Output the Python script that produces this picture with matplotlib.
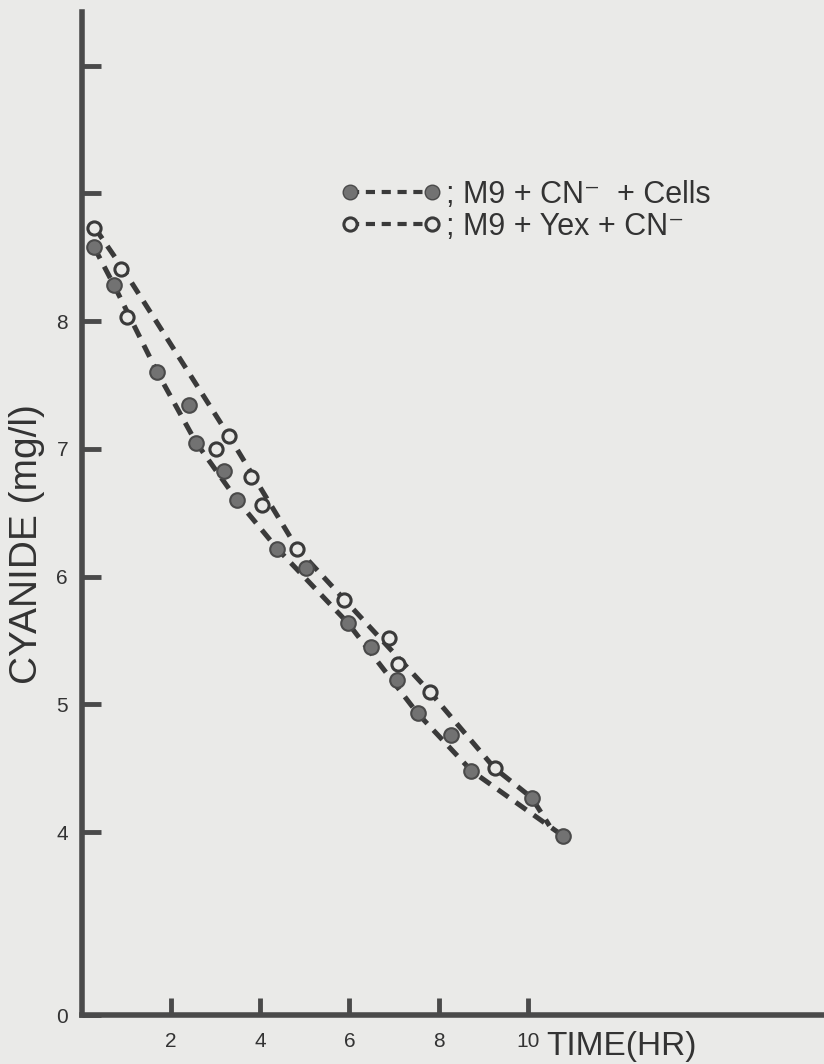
import numpy as np
import matplotlib.pyplot as plt
from matplotlib.lines import Line2D

plt.rcParams['font.family'] = ['Liberation Sans', 'DejaVu Sans']

# Cyanide concentration (mg/l)
# filled circles: M9 + CN- + Cells
cells_time = [0.27, 0.72, 1.69, 2.40, 2.56, 3.19, 3.48, 4.38, 5.03, 5.96,
              6.49, 7.06, 7.53, 8.29, 8.74, 10.09, 10.79]
cells_cn = [8.58, 8.28, 7.60, 7.34, 7.05, 6.83, 6.60, 6.22, 6.07, 5.64,
            5.45, 5.19, 4.93, 4.76, 4.48, 4.27, 3.92]
# open circles: M9 + Yex + CN-
yex_time = [0.27, 0.88, 1.01, 3.01, 3.30, 3.80, 4.04, 4.83, 5.89, 6.90,
            7.08, 7.80, 9.26]
yex_cn = [8.73, 8.41, 8.03, 7.00, 7.10, 6.78, 6.56, 6.22, 5.82, 5.52,
          5.32, 5.10, 4.50]

# hand drawn dashed trend lines
upper_time = [0.29, 0.88, 3.30, 4.83, 5.89, 7.80, 9.26, 10.09, 10.49]
upper_cn = [8.73, 8.43, 7.10, 6.22, 5.82, 5.10, 4.50, 4.27, 4.05]
lower_time = [0.27, 0.72, 1.69, 2.56, 3.48, 4.38, 5.96, 7.53, 8.74, 10.79]
lower_cn = [8.58, 8.28, 7.60, 7.05, 6.60, 6.22, 5.64, 4.93, 4.48, 3.92]

x_ticks = [2, 4, 6, 8, 10]
y_ticks = [0, 4, 5, 6, 7, 8, 9, 10]
y_labels = ['0', '4', '5', '6', '7', '8', '', '']

# y axis is compressed below 4 (broken scale in the original)
K = 0.358


def fwd(v):
    v = np.asarray(v, dtype=float)
    return np.where(v >= 4, v, 4 + (v - 4) * K)


def inv(u):
    u = np.asarray(u, dtype=float)
    return np.where(u >= 4, u, 4 + (u - 4) / K)


paper = '#eaeae8'
ink = '#3a3a3a'
text_col = '#333333'

fig = plt.figure(figsize=(8.24, 10.64), dpi=100, facecolor=paper)
ax = fig.add_axes([0.0995, 0.046, 0.9005, 0.9427], facecolor=paper)
ax.set_yscale('function', functions=(fwd, inv))

dash = dict(color=ink, lw=3.6, linestyle=(0, (2.6, 1.8)), solid_capstyle='butt')
ax.plot(upper_time, upper_cn, zorder=2, **dash)
ax.plot(lower_time, lower_cn, zorder=2, **dash)

ax.plot(cells_time, cells_cn, 'o', ms=10.5, mfc='#727272', mec='#4a4a4a', mew=1.5, zorder=3)
ax.plot(yex_time, yex_cn, 'o', ms=9.5, mfc=paper, mec=ink, mew=2.2, zorder=3)

ax.set_xlim(0, 16.65)
ax.set_ylim(0, 10.42)

for s in ['top', 'right']:
    ax.spines[s].set_visible(False)
for s in ['left', 'bottom']:
    ax.spines[s].set_linewidth(4)
    ax.spines[s].set_color('#4a4a4a')

ax.set_xticks(x_ticks)
ax.set_xticklabels([str(t) for t in x_ticks])
ax.set_yticks(y_ticks)
ax.set_yticklabels(y_labels)
ax.minorticks_off()
ax.tick_params(axis='x', direction='in', length=12, width=3.5, color='#4a4a4a',
               pad=12, labelsize=15, labelcolor=text_col)
ax.tick_params(axis='y', direction='in', length=14, width=3.5, color='#4a4a4a',
               pad=10, labelsize=15, labelcolor=text_col)
for lab in ax.get_xticklabels() + ax.get_yticklabels():
    lab.set_family(['Liberation Sans Narrow', 'Liberation Sans'])

ax.set_ylabel('CYANIDE (mg/l)', fontsize=28, color=text_col)
ax.yaxis.set_label_coords(-0.05, 0.47)
# axis title sits just right of the "10" label so the two do not collide
fig.text(0.663, 0.002, 'TIME(HR)', fontsize=24, color=text_col, ha='left', va='bottom')

handles = [
    Line2D([], [], marker='o', ms=10.5, mfc='#727272', mec='#4a4a4a', color=ink,
           lw=3, linestyle=(0, (2.2, 1.6))),
    Line2D([], [], marker='o', ms=9.5, mfc=paper, mec=ink, mew=2.2, color=ink,
           lw=3, linestyle=(0, (2.2, 1.6))),
]
labels = ['; M9 + CN\u207b  + Cells', '; M9 + Yex + CN\u207b']
ax.legend(handles, labels, loc='upper left', bbox_to_anchor=(0.38, 0.857),
          bbox_transform=fig.transFigure, frameon=False, numpoints=2,
          handlelength=3.3, handletextpad=0.15, labelspacing=0.08,
          fontsize=22, labelcolor=text_col)

fig.savefig('out.png', dpi=100, facecolor=paper)
